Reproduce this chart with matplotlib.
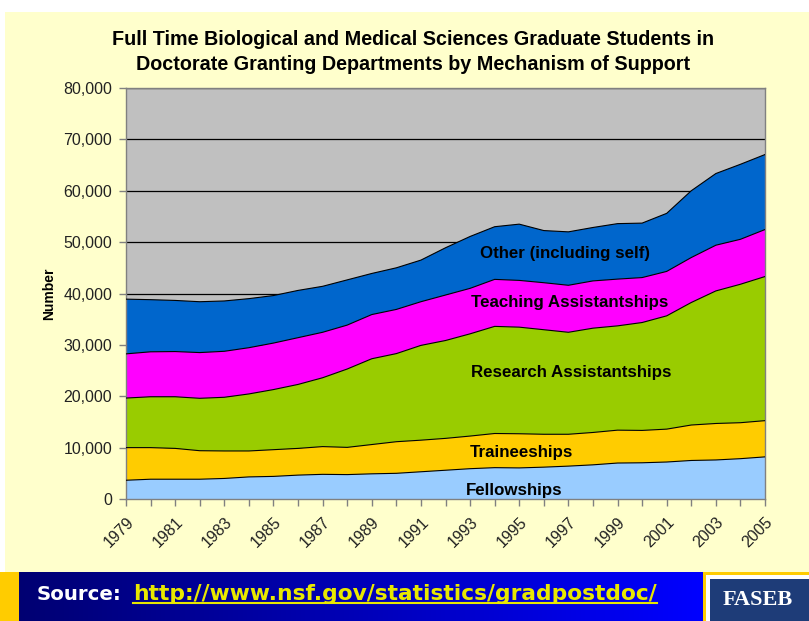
import matplotlib
matplotlib.use("Agg")
import matplotlib.pyplot as plt
import numpy as np
from matplotlib.patches import Rectangle
from matplotlib.lines import Line2D
from matplotlib.ticker import FuncFormatter, MultipleLocator
from matplotlib.colors import LinearSegmentedColormap

# ---------------- data ----------------
years = list(range(1979, 2006))
fellowships = [3650, 3850, 3850, 3850, 4000, 4300, 4400, 4650, 4800, 4750, 4900, 5000, 5300, 5600,
               5900, 6100, 6050, 6200, 6400, 6650, 7000, 7050, 7200, 7500, 7600, 7850, 8200]
traineeships = [6350, 6150, 6000, 5550, 5350, 5050, 5200, 5200, 5400, 5300, 5700, 6150, 6150, 6200,
                6350, 6650, 6650, 6400, 6200, 6300, 6400, 6300, 6400, 6900, 7100, 7000, 7050]
research = [9650, 9900, 10050, 10200, 10450, 11100, 11700, 12450, 13400, 15250, 16700, 17150, 18450, 19050,
            19900, 20850, 20750, 20350, 19850, 20300, 20300, 21000, 22050, 23850, 25800, 26950, 28050]
teaching = [8600, 8750, 8800, 8900, 8950, 9000, 9050, 9100, 8850, 8550, 8600, 8600, 8500, 8850,
            8850, 9150, 9100, 9150, 9150, 9200, 9100, 8750, 8650, 8750, 8900, 8750, 9150]
other = [10650, 10150, 9950, 9900, 9800, 9550, 9250, 9200, 8950, 8800, 8000, 8100, 8100, 9200,
         10100, 10250, 10950, 10150, 10400, 10400, 10800, 10600, 11300, 13000, 13950, 14600, 14600]

series_names = ["Fellowships", "Traineeships", "Research Assistantships",
                "Teaching Assistantships", "Other (including self)"]
series_values = [fellowships, traineeships, research, teaching, other]
series_colors = ["#99CCFF", "#FFCC00", "#99CC00", "#FF00FF", "#0066CC"]
tick_years = list(range(1979, 2006, 2))

title = ("Full Time Biological and Medical Sciences Graduate Students in\n"
         "Doctorate Granting Departments by Mechanism of Support")

W, H = 809, 621
fig = plt.figure(figsize=(W / 100, H / 100), dpi=100)
fig.patch.set_facecolor("white")

# light yellow page background
bg = Rectangle((5 / W, 49 / H), 1 - 5 / W, (H - 12 - 49) / H,
               transform=fig.transFigure, facecolor="#FFFFCC", edgecolor="none", zorder=-10)
fig.add_artist(bg)

# ---------------- main chart ----------------
ax = fig.add_axes([126 / W, 1 - 499 / H, (765 - 126) / W, (499 - 88) / H], zorder=5)
ax.set_facecolor("#C0C0C0")
x = np.array(years)
base = np.zeros(len(years))
for vals, col in zip(series_values, series_colors):
    top = base + np.array(vals)
    ax.fill_between(x, base, top, facecolor=col, edgecolor="none", zorder=2)
    ax.plot(x, top, color="#000000", lw=0.8, zorder=3)
    base = top

ax.set_xlim(1979, 2005)
ax.set_ylim(0, 80000)
ax.yaxis.set_major_locator(MultipleLocator(10000))
ax.yaxis.set_major_formatter(FuncFormatter(lambda v, p: f"{int(v):,}"))
ax.grid(axis="y", color="black", lw=0.9, zorder=1)
ax.set_axisbelow(True)
ax.set_xticks(years)
ax.set_xticklabels([str(y) if y in tick_years else "" for y in years],
                   rotation=45, ha="right", va="top", rotation_mode="anchor")
for s in ax.spines.values():
    s.set_color("#808080")
    s.set_linewidth(1.0)
ax.tick_params(axis="both", direction="out", length=5, width=1, color="#808080",
               labelsize=11.5, labelcolor="#222222")
ax.tick_params(axis="x", pad=6)
ax.tick_params(axis="y", pad=5)
for lab in ax.get_xticklabels() + ax.get_yticklabels():
    lab.set_family("Liberation Sans")

ax.set_ylabel("Number", fontsize=10, fontweight="bold", family="Liberation Sans", labelpad=5)

# in-area labels
label_pos = [(1994.8, 1750), (1995.1, 9140), (1997.1, 24700), (1997.05, 38330), (1996.85, 47860)]
for name, (lx, ly) in zip(series_names, label_pos):
    ax.text(lx, ly, name, ha="center", va="center", fontsize=12.2, fontweight="bold",
            family="Liberation Sans", color="black", zorder=4)

fig.text(413 / W, 1 - 52 / H, title, ha="center", va="center", fontsize=14.2,
         fontweight="bold", family="Liberation Sans", linespacing=1.4)

# ---------------- source banner ----------------
bax = fig.add_axes([0, 0, 1, 49 / H], zorder=6)
bax.set_xlim(0, W)
bax.set_ylim(0, 49)
bax.axis("off")
grad = np.linspace(0, 1, 256).reshape(1, -1)
cmap = LinearSegmentedColormap.from_list("b", ["#00006E", "#0000FF"])
bax.imshow(grad, extent=(0, 703, 0, 49), aspect="auto", cmap=cmap, zorder=1)
bax.add_patch(Rectangle((0, 0), 19, 49, facecolor="#FFCC00", edgecolor="none", zorder=2))
bax.add_patch(Rectangle((703, 0), 106, 49, facecolor="#FFCC00", edgecolor="none", zorder=2))
bax.add_patch(Rectangle((706, 0), 103, 46, facecolor="#FFFFFF", edgecolor="none", zorder=3))
bax.add_patch(Rectangle((710, 0), 99, 42, facecolor="#1E3C78", edgecolor="none", zorder=4))
bax.text(758, 21, "FASEB", ha="center", va="center", color="white", fontsize=16,
         fontweight="bold", family="Liberation Serif", zorder=5)

t1 = bax.text(37, 27, "Source:", ha="left", va="center", color="white", fontsize=14.2,
              fontweight="bold", family="DejaVu Sans", zorder=5)
t2 = bax.text(133, 27, "http://www.nsf.gov/statistics/gradpostdoc/", ha="left", va="center",
              color="#E8E800", fontsize=15.7, fontweight="bold", family="DejaVu Sans", zorder=5)
fig.canvas.draw()
bb = t2.get_window_extent(renderer=fig.canvas.get_renderer())
inv = bax.transData.inverted()
(x0, y0), (x1, y1) = inv.transform([(bb.x0, bb.y0), (bb.x1, bb.y0)])
bax.add_line(Line2D([x0, x1], [y0 + 1.5, y0 + 1.5], color="#E8E800", lw=1.5, zorder=5))

fig.savefig("out.png", dpi=100, facecolor=fig.get_facecolor())
